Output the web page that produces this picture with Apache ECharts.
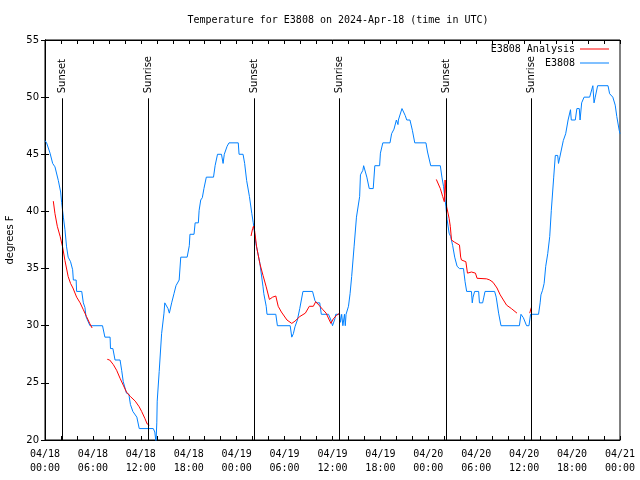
<!DOCTYPE html>
<html>
<head>
<meta charset="utf-8">
<script src="https://cdn.jsdelivr.net/npm/echarts@6/dist/echarts.min.js"></script>
<style>html,body{margin:0;padding:0;background:#fff}#c{width:640px;height:480px}</style>
</head>
<body>
<div id="c"></div>
<script>
// ---- data (hours since 2024-04-18 00:00 UTC, degrees F) ----
var e3808Hours = [0.0,0.2,0.63,0.96,1.25,1.67,1.96,2.08,2.3,2.5,2.7,2.9,3.2,3.46,3.55,3.9,3.96,4.6,4.8,5.0,5.13,5.63,7.2,7.5,8.15,8.2,8.5,8.77,9.4,9.6,9.8,10.2,10.5,10.7,11.0,11.5,11.8,13.56,13.75,13.9,14.0,14.05,14.3,14.6,14.9,15.0,15.15,15.4,15.57,15.86,16.15,16.4,16.8,17.0,17.8,18.07,18.15,18.66,18.8,19.2,19.3,19.5,19.7,19.9,20.2,21.1,21.3,21.6,22.1,22.3,22.45,22.8,23.04,24.2,24.3,24.8,25.0,25.25,25.6,25.9,26.08,26.4,26.9,27.3,27.4,27.7,27.8,28.9,29.1,30.7,30.9,31.1,31.3,31.6,31.9,32.3,33.5,33.8,34.0,34.4,34.6,35.5,35.8,36.0,36.3,36.4,36.9,37.0,37.15,37.3,37.5,37.6,37.7,38.0,38.2,38.4,38.7,39.0,39.4,39.5,39.8,39.9,40.0,40.3,40.6,41.1,41.3,41.9,42.0,42.3,43.2,43.4,43.7,44.0,44.2,44.25,44.7,45.1,45.3,45.7,46.0,46.3,47.7,47.9,48.3,49.5,49.7,49.9,50.2,50.35,50.6,50.8,51.05,51.3,51.6,51.9,52.4,52.6,52.8,53.4,53.5,53.6,53.8,54.3,54.4,54.8,54.95,55.1,56.3,56.5,56.8,57.1,59.4,59.6,59.9,60.3,60.6,60.8,61.8,62.0,62.1,62.3,62.5,62.7,62.95,63.2,63.4,63.7,63.9,64.2,64.3,64.45,64.6,64.9,65.2,65.5,65.8,65.9,66.4,66.6,66.9,67.0,67.2,67.5,68.2,68.6,68.75,68.9,69.2,70.5,70.7,71.1,71.4,71.6,71.9,72.0];
var e3808Temps = [46.2,46.0,45.1,44.2,43.9,42.7,41.7,40.8,39.5,38.4,36.9,36.0,35.6,34.9,34.0,34.0,33.0,33.0,32.0,31.6,30.8,30.0,30.0,29.0,29.0,28.0,28.0,27.0,27.0,26.1,25.1,24.1,24.0,23.1,22.5,22.0,21.0,21.0,20.7,19.8,21.5,23.4,26.0,29.3,31.1,32.0,32.0,31.5,31.1,32.0,32.8,33.5,34.0,36.0,36.0,37.0,38.0,38.0,39.0,39.0,40.1,41.0,41.2,42.0,43.0,43.0,44.0,45.0,45.0,44.2,45.0,45.7,46.0,46.0,45.0,45.0,44.2,42.7,41.3,39.8,39.0,37.2,35.5,33.4,32.8,31.7,31.0,31.0,30.0,30.0,29.0,29.3,29.9,30.5,31.5,33.0,33.0,32.2,32.0,32.0,31.0,31.0,30.5,30.0,30.6,31.0,31.0,30.3,31.0,30.0,31.0,30.0,31.0,31.7,32.8,34.3,36.9,39.5,41.3,43.2,43.6,44.0,44.0,43.0,42.0,42.0,44.0,44.0,45.1,46.0,46.0,46.8,47.2,48.0,47.6,48.0,49.0,48.4,48.0,48.0,47.1,46.0,46.0,45.2,44.0,44.0,43.0,42.2,40.4,39.3,38.1,37.8,37.0,36.0,35.2,35.0,35.0,33.85,33.0,33.0,32.0,32.5,33.0,33.0,32.0,32.0,32.5,33.0,33.0,32.5,31.1,30.0,30.0,31.0,30.7,30.0,30.0,31.0,31.0,32.0,32.7,33.1,33.7,35.2,36.3,37.8,40.1,43.0,44.9,44.9,44.2,44.1,45.2,46.2,46.8,48.0,48.9,48.0,48.0,49.0,49.0,48.0,49.5,50.0,50.0,51.0,49.5,50.0,51.0,51.0,50.3,50.0,49.3,48.3,47.1,46.8];

var analysisHours = [1.04,1.25,1.54,1.9,2.2,2.5,2.9,3.2,3.5,3.96,4.4,4.8,5.2,5.6,5.9, 6.8, 7.8,8.1,8.55,8.97,9.4,9.8,10.2,10.7,11.3,11.8,12.1,12.5,12.8,13.06, 20.0, 25.8,26.0,26.1,26.25,26.5,26.9,27.3,27.7,28.1,28.5,28.9,29.2,29.6,30.3,30.9,31.3,31.9,32.6,33.1,33.6,33.9,34.3,34.8,35.2,35.6,35.8,36.1,36.5,36.9, 43.0, 49.0,49.5,49.8,50.0,50.1,50.2,50.3,50.6,50.75,50.9,51.3,51.9,52.05,52.15,52.7,52.9,53.1,53.4,53.6,53.9,54.1,55.3,55.7,56.1,56.6,57.0,57.4,57.8,58.4,59.1, 60.0, 60.7,60.85,60.9];
var analysisTemps = [40.9,39.8,38.7,37.8,36.9,35.7,34.3,33.7,33.3,32.5,32.0,31.4,30.8,30.2,29.8, null, 27.06,27.0,26.6,26.1,25.4,24.8,24.2,23.8,23.4,22.9,22.5,21.9,21.4,21.3, null, 37.85,38.5,38.7,38.3,36.9,35.45,34.4,33.4,32.3,32.5,32.6,31.7,31.2,30.5,30.2,30.4,30.8,31.1,31.7,31.7,32.1,31.8,31.4,31.1,30.5,30.2,30.6,30.9,31.1, null, 42.8,42.0,41.3,40.85,42.75,41.6,40.4,39.4,38.7,37.5,37.3,37.06,36.0,35.75,35.6,34.6,34.6,34.7,34.8,34.6,34.15,34.1,34.0,33.8,33.3,32.7,32.25,31.8,31.5,31.1, null, 31.1,31.5,31.6];

var sunEventHours = [2.17, 12.94, 26.2, 36.86, 50.25, 60.9];
var sunEventLabels = ['Sunset','Sunrise','Sunset','Sunrise','Sunset','Sunrise'];

var xTickLabels = ['04/18\n00:00','04/18\n06:00','04/18\n12:00','04/18\n18:00','04/19\n00:00','04/19\n06:00','04/19\n12:00','04/19\n18:00','04/20\n00:00','04/20\n06:00','04/20\n12:00','04/20\n18:00','04/21\n00:00'];

var MONO = '"DejaVu Sans Mono", "Liberation Mono", monospace';
var SANS = '"DejaVu Sans", "Liberation Sans", sans-serif';
var SUN_LINE_TOP = 49.9;

var chart = echarts.init(document.getElementById('c'), null, {renderer: 'canvas'});

var blueData = e3808Hours.map(function (h, i) { return [h, e3808Temps[i]]; });
var redData = analysisHours.map(function (h, i) { return [h, analysisTemps[i] == null ? '-' : analysisTemps[i]]; });
var sunData = sunEventHours.map(function (h, i) { return [h, sunEventLabels[i]]; });

var option = {
  animation: false,
  backgroundColor: '#fff',
  title: {
    text: 'Temperature for E3808 on 2024-Apr-18 (time in UTC)',
    left: 333, textAlign: 'center', top: 10,
    textStyle: {fontFamily: MONO, fontSize: 10, fontWeight: 'normal', color: '#000'}
  },
  legend: {
    orient: 'vertical', right: 31, top: 43, align: 'right', padding: 0,
    itemWidth: 29, itemHeight: 1, itemGap: 2, icon: 'rect',
    data: ['E3808 Analysis', 'E3808'],
    textStyle: {fontFamily: MONO, fontSize: 10, color: '#000', lineHeight: 12}
  },
  grid: {left: 45, right: 20, top: 40, bottom: 40, show: true, borderColor: '#000', borderWidth: 1,
         outerBoundsMode: 'none', containLabel: false},
  xAxis: [{
    type: 'value', min: 0, max: 72, interval: 2, position: 'bottom',
    axisLine: {show: true, lineStyle: {color: '#000'}},
    axisTick: {inside: true, length: 4, lineStyle: {color: '#000'}},
    splitLine: {show: false},
    axisLabel: {
      fontFamily: MONO, fontSize: 10, color: '#000', margin: 7, lineHeight: 14,
      formatter: function (v) { return (v % 6 === 0) ? xTickLabels[v / 6] : ''; }
    }
  }, {
    type: 'value', min: 0, max: 72, interval: 2, position: 'top',
    axisLine: {show: true, lineStyle: {color: '#000'}},
    axisTick: {inside: true, length: 4, lineStyle: {color: '#000'}},
    splitLine: {show: false}, axisLabel: {show: false}
  }],
  yAxis: [{
    type: 'value', min: 20, max: 55, interval: 5, position: 'left',
    name: 'degrees F', nameLocation: 'middle', nameGap: 30, nameRotate: 90,
    nameTextStyle: {fontFamily: SANS, fontSize: 10, color: '#000'},
    axisLine: {show: true, lineStyle: {color: '#000'}},
    axisTick: {inside: true, length: 4, lineStyle: {color: '#000'}},
    splitLine: {show: false},
    axisLabel: {fontFamily: SANS, fontSize: 10, color: '#000', margin: 6}
  }, {
    type: 'value', min: 20, max: 55, interval: 5, position: 'right',
    axisLine: {show: true, lineStyle: {color: '#000'}},
    axisTick: {inside: true, length: 4, lineStyle: {color: '#000'}},
    splitLine: {show: false}, axisLabel: {show: false}
  }],
  series: [{
    name: 'E3808 Analysis', type: 'line', data: redData, xAxisIndex: 0, yAxisIndex: 0,
    symbol: 'none', showSymbol: false, connectNulls: false, clip: true,
    lineStyle: {color: '#ff0000', width: 1}, itemStyle: {color: '#ff0000'}, z: 3
  }, {
    name: 'E3808', type: 'line', data: blueData, xAxisIndex: 0, yAxisIndex: 0,
    symbol: 'none', showSymbol: false, clip: true,
    lineStyle: {color: '#0080ff', width: 1}, itemStyle: {color: '#0080ff'}, z: 2
  }, {
    name: 'sun', type: 'custom', data: sunData, xAxisIndex: 0, yAxisIndex: 0,
    encode: {x: 0}, silent: true, z: 4,
    renderItem: function (params, api) {
      var h = api.value(0);
      var p0 = api.coord([h, 20]);
      var p1 = api.coord([h, SUN_LINE_TOP]);
      var label = sunEventLabels[params.dataIndex];
      return {
        type: 'group',
        children: [{
          type: 'line',
          shape: {x1: Math.round(p0[0]) + 0.5, y1: p0[1], x2: Math.round(p1[0]) + 0.5, y2: p1[1]},
          style: {stroke: '#000', lineWidth: 1}
        }, {
          type: 'text',
          x: Math.round(p1[0]) + 0.5, y: p1[1] - 5, rotation: Math.PI / 2,
          style: {text: label, textAlign: 'left', textVerticalAlign: 'middle',
                  font: '10px ' + SANS, fill: '#000'}
        }]
      };
    }
  }]
};
chart.setOption(option);
</script>
</body>
</html>
